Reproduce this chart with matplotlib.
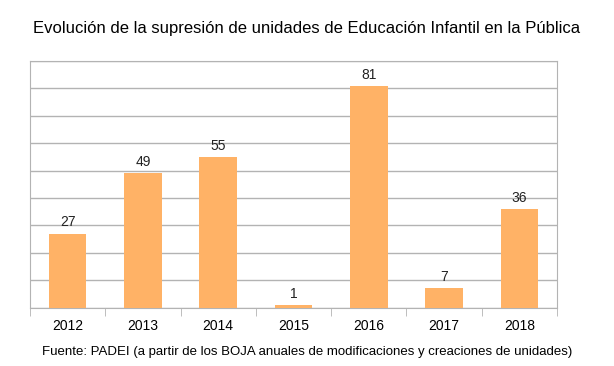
import numpy as np
import matplotlib.pyplot as plt

years = ['2012', '2013', '2014', '2015', '2016', '2017', '2018']
values = [27, 49, 55, 1, 81, 7, 36]

plt.rcParams['font.family'] = ['Liberation Sans', 'DejaVu Sans']

fig = plt.figure(figsize=(6.14, 3.66), dpi=100)
ax = fig.add_axes([30/614, 1-307.5/366, 527/614, 246.5/366])

x = np.arange(len(years))
ax.bar(x, values, width=0.5, color='#FFB266', zorder=3)
for xi, v in zip(x, values):
    ax.text(xi, v + 1.5, str(v), ha='center', va='bottom', fontsize=10, color='#222222')

ax.set_xlim(-0.5, len(years) - 0.5)
ax.set_ylim(0, 90)
ax.set_yticks(np.arange(0, 91, 10))
ax.set_yticklabels([])
ax.tick_params(axis='y', length=0)
ax.grid(axis='y', color='#B3B3B3', linewidth=1, zorder=0)

ax.set_xticks(x)
ax.set_xticklabels(years, fontsize=10)
ax.tick_params(axis='x', which='major', length=0, pad=8)
ax.set_xticks(np.arange(-0.5, len(years), 1), minor=True)
ax.tick_params(axis='x', which='minor', length=6, color='#B3B3B3')

for s in ax.spines.values():
    s.set_color('#B3B3B3')

fig.text(0.5, 1-28/366, 'Evolución de la supresión de unidades de Educación Infantil en la Pública',
         ha='center', va='center', fontsize=12)
fig.text(0.5, 1-352/366, 'Fuente: PADEI (a partir de los BOJA anuales de modificaciones y creaciones de unidades)',
         ha='center', va='center', fontsize=9.5)

plt.savefig('out.png')
